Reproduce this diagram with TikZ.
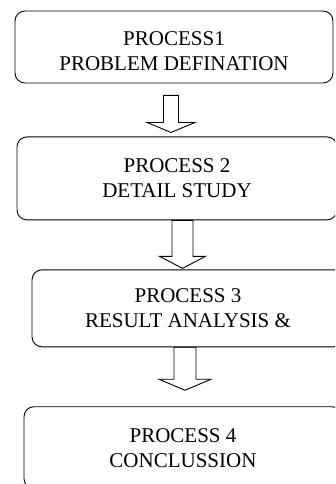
\documentclass[tikz,border=0pt]{standalone}
\usepackage{fontspec}
\setmainfont{Liberation Serif}
\usepackage{tikz}
\usetikzlibrary{positioning}
\usetikzlibrary{calc}
\tikzset{procbox/.style={draw, rounded corners=10pt, line width=0.9pt, align=center, inner sep=0pt, font=\fontsize{21}{25}\selectfont}}
\tikzset{blockarrow/.style={draw, line width=0.9pt, line join=miter}}
\newcommand{\downblock}[5]{\draw[blockarrow] ($(#1)+(-#3,0)$) -- ($(#2)+(-#3,-#5)$) -- ($(#2)+(-#4,-#5)$) -- (#2) -- ($(#2)+(#4,-#5)$) -- ($(#2)+(#3,-#5)$) -- ($(#1)+(#3,0)$) -- cycle;}

\begin{document}
\begin{tikzpicture}[x=1pt, y=-1pt, node distance=53pt]
\useasboundingbox (0,0) rectangle (335,484);
\clip (0,0) rectangle (335,484);

\node[procbox, minimum width=318pt, minimum height=72pt, text height=48pt] (p1) at (174,47) {PROCESS1\\PROBLEM DEFINATION};
\node[procbox, minimum width=320pt, minimum height=83pt, below=of p1, xshift=3pt] (p2) {PROCESS 2\\DETAIL STUDY};
\node[procbox, minimum width=312pt, minimum height=77pt, below=49pt of p2, xshift=11pt] (p3) {PROCESS 3\\RESULT ANALYSIS \&};
\node[procbox, minimum width=318pt, minimum height=82pt, below=59pt of p3, xshift=-5pt] (p4) {PROCESS 4\\CONCLUSSION};

\coordinate[below=12pt of p1.south, xshift=-3pt] (a1top);
\coordinate[above=4pt of p2.north, xshift=-6pt] (a1tip);
\coordinate[xshift=5.5pt] (a2top) at (p2.south);
\coordinate[above=1pt of p3.north, xshift=-5.5pt] (a2tip);
\coordinate[xshift=-3pt] (a3top) at (p3.south);
\coordinate[above=16pt of p4.north, xshift=2pt] (a3tip);

\downblock{a1top}{a1tip}{7.5}{24}{10}
\downblock{a2top}{a2tip}{10.5}{23}{12}
\downblock{a3top}{a3tip}{11}{26}{11}
\end{tikzpicture}
\end{document}
